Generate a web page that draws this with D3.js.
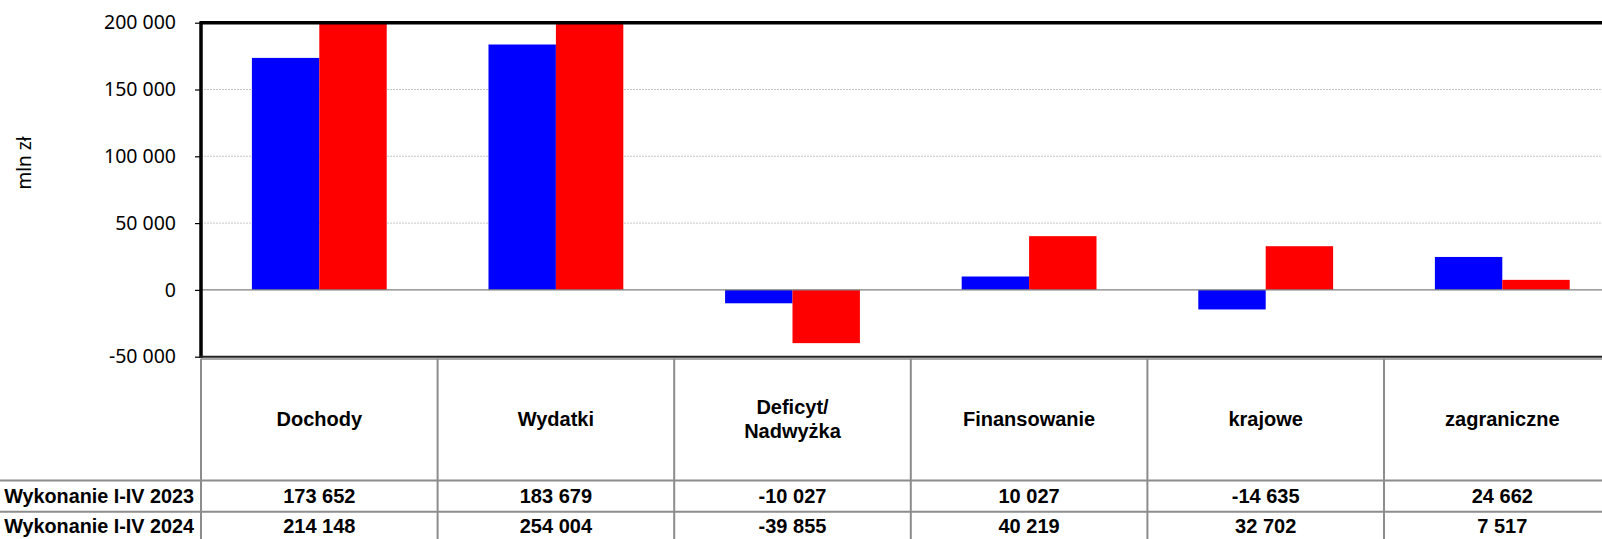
<!DOCTYPE html>
<html lang="pl">
<head>
<meta charset="utf-8">
<title>Dochody i wydatki</title>
<script src="https://d3js.org/d3.v7.min.js"></script>
<style>
  body { margin: 0; background: #fff; }
  svg { display: block; }
</style>
</head>
<body>
<div id="chart"></div>
<script>
// data
var categories = ["Dochody", "Wydatki", "Deficyt/\nNadwyżka", "Finansowanie", "krajowe", "zagraniczne"];
var seriesNames = ["Wykonanie I-IV 2023", "Wykonanie I-IV 2024"];
var values2023 = [173652, 183679, -10027, 10027, -14635, 24662];
var values2024 = [214148, 254004, -39855, 40219, 32702, 7517];
var yTicks = [-50000, 0, 50000, 100000, 150000, 200000];
var colors = ["#0000ff", "#ff0000"];

var width = 1602, height = 539
var plotLeft = 201, colW = 236.6
var plotTop = 22.7, plotBottom = 356.7
var headerBottom = 480.5, row1Bottom = 511.8

var svg = d3.select("#chart").append("svg")
    .attr("width", width)
    .attr("height", height)

var x0 = d3.scaleBand()
    .domain(categories)
    .range([plotLeft, plotLeft + colW * categories.length])
    .padding(0)

var x1 = d3.scaleBand()
    .domain(seriesNames)
    .range([0, x0.bandwidth()])
    .paddingInner(0)
    .paddingOuter(0.755)

var y = d3.scaleLinear()
    .domain([-50000, 200000])
    .range([plotBottom, plotTop])

var fmt = function (v) {
    var s = d3.format(",")(v).replace(/,/g, " ")
    return s.replace("−", "-")
}

// grid lines
svg.append("g")
    .selectAll("line")
    .data(yTicks.filter(function (d) { return d > 0 && d < 200000 }))
    .enter().append("line")
    .attr("x1", plotLeft).attr("x2", width)
    .attr("y1", function (d) { return y(d) }).attr("y2", function (d) { return y(d) })
    .attr("stroke", "#c8c8c8")
    .attr("stroke-width", 1)
    .attr("stroke-dasharray", "2,1")

// bars, clipped to plot area
svg.append("clipPath").attr("id", "plotclip")
    .append("rect")
    .attr("x", plotLeft).attr("y", plotTop)
    .attr("width", width - plotLeft).attr("height", plotBottom - plotTop)

var rows = categories.map(function (c, i) {
    return { cat: c, vals: [values2023[i], values2024[i]] }
})

svg.append("g")
    .attr("clip-path", "url(#plotclip)")
    .selectAll("g")
    .data(rows)
    .enter().append("g")
    .attr("transform", function (d) { return "translate(" + x0(d.cat) + ",0)" })
    .selectAll("rect")
    .data(function (d) { return d.vals.map(function (v, j) { return { s: seriesNames[j], v: v, j: j } }) })
    .enter().append("rect")
    .attr("x", function (d) { return x1(d.s) })
    .attr("width", x1.bandwidth())
    .attr("y", function (d) { return y(Math.max(0, d.v)) })
    .attr("height", function (d) { return Math.abs(y(d.v) - y(0)) })
    .attr("fill", function (d) { return colors[d.j] })

// zero line
svg.append("line")
    .attr("x1", plotLeft).attr("x2", width)
    .attr("y1", y(0)).attr("y2", y(0))
    .attr("stroke", "#808080").attr("stroke-width", 1.2)

// y axis
var axisFont = "'Noto Sans', 'Open Sans', sans-serif"
var yAxis = svg.append("g")
    .attr("transform", "translate(" + plotLeft + ",0)")
    .call(d3.axisLeft(y).tickValues(yTicks).tickFormat(fmt).tickSize(6).tickPadding(19))
yAxis.select(".domain").remove()
yAxis.selectAll("line").attr("stroke", "#000").attr("stroke-width", 1.2)
yAxis.selectAll("text")
    .attr("fill", "#000")
    .style("font-family", axisFont)
    .style("font-size", "19.5px")

// plot frame
svg.append("line")
    .attr("x1", plotLeft - 1).attr("x2", width)
    .attr("y1", plotTop).attr("y2", plotTop)
    .attr("stroke", "#000").attr("stroke-width", 3.5)
svg.append("line")
    .attr("x1", plotLeft).attr("x2", plotLeft)
    .attr("y1", plotTop - 1.5).attr("y2", plotBottom + 1)
    .attr("stroke", "#000").attr("stroke-width", 3.5)
svg.append("line")
    .attr("x1", plotLeft - 1).attr("x2", width)
    .attr("y1", plotBottom).attr("y2", plotBottom)
    .attr("stroke", "#222").attr("stroke-width", 2)

svg.append("text")
    .attr("transform", "translate(31," + 163 + ") rotate(-90)")
    .attr("text-anchor", "middle")
    .style("font-family", axisFont)
    .style("font-size", "19px")
    .text("mln zł")

// data table
var tbl = svg.append("g")
var gridColor = "#8c8c8c"
tbl.append("line")
    .attr("x1", plotLeft).attr("x2", width)
    .attr("y1", plotBottom + 2.3).attr("y2", plotBottom + 2.3)
    .attr("stroke", gridColor).attr("stroke-width", 1.5)
tbl.selectAll("line.h")
    .data([headerBottom, row1Bottom])
    .enter().append("line")
    .attr("x1", 0).attr("x2", width)
    .attr("y1", function (d) { return d }).attr("y2", function (d) { return d })
    .attr("stroke", gridColor).attr("stroke-width", 2)
tbl.selectAll("line.v")
    .data(categories.concat(["end"]))
    .enter().append("line")
    .attr("x1", function (d, i) { return plotLeft + i * x0.step() })
    .attr("x2", function (d, i) { return plotLeft + i * x0.step() })
    .attr("y1", plotBottom + 2).attr("y2", height)
    .attr("stroke", gridColor).attr("stroke-width", 2)

var boldFont = "'Liberation Sans', Arial, sans-serif"

// header labels
tbl.selectAll("text.hdr")
    .data(categories)
    .enter().append("text")
    .attr("text-anchor", "middle")
    .style("font-family", boldFont)
    .style("font-weight", "bold")
    .style("font-size", "20px")
    .each(function (d) {
        var lines = d.split("\n")
        var cx = x0(d) + x0.bandwidth() / 2
        var el = d3.select(this)
        lines.forEach(function (ln, k) {
            el.append("tspan")
                .attr("x", cx)
                .attr("y", 426 + (k - (lines.length - 1) / 2) * 24)
                .text(ln)
        })
    })

// value rows
var rowBase = [502.5, 533]
;[values2023, values2024].forEach(function (vals, r) {
    tbl.append("text")
        .attr("x", 194).attr("y", rowBase[r])
        .attr("text-anchor", "end")
        .style("font-family", boldFont)
        .style("font-weight", "bold")
        .style("font-size", "19.8px")
        .text(seriesNames[r])
    tbl.selectAll("text.v" + r)
        .data(vals)
        .enter().append("text")
        .attr("x", function (d, i) { return x0(categories[i]) + x0.bandwidth() / 2 })
        .attr("y", rowBase[r])
        .attr("text-anchor", "middle")
        .style("font-family", boldFont)
        .style("font-weight", "bold")
        .style("font-size", "20px")
        .text(fmt)
})
</script>
</body>
</html>
